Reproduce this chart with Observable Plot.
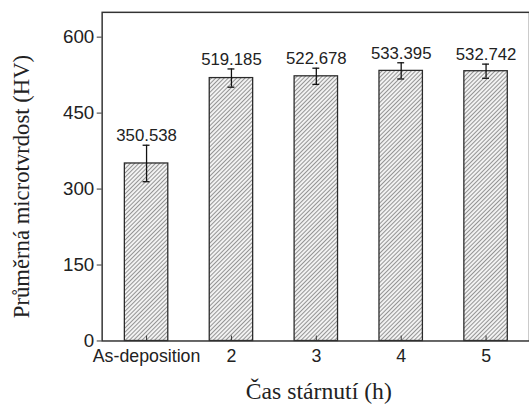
<!DOCTYPE html>
<html>
<head>
<meta charset="utf-8">
<script src="https://cdn.jsdelivr.net/npm/d3@7"></script>
<script src="https://cdn.jsdelivr.net/npm/@observablehq/plot@0.6"></script>
<style>
  html, body { margin: 0; padding: 0; background: #fff; overflow: hidden; }
  #chart { width: 529px; height: 411px; overflow: hidden; }
  #chart svg { display: block; }
</style>
</head>
<body>
<div id="chart"></div>
<script>
const categories = ["As-deposition", "2", "3", "4", "5"];
const values = [350.538, 519.185, 522.678, 533.395, 532.742];
const errors = [36, 18, 16, 16, 14];
const yTicks = [0, 150, 300, 450, 600];
const yTitle = "Průměrná microtvrdost (HV)";
const xTitle = "Čas stárnutí (h)";

const data = categories.map((c, i) => ({cat: c, v: values[i], e: errors[i]}));
const sans = "'Liberation Sans', Arial, sans-serif";
const serif = "'Liberation Serif', 'Times New Roman', serif";

const chart = Plot.plot({
  width: 536,
  height: 411,
  marginLeft: 103,
  marginRight: 0,
  marginTop: 12,
  marginBottom: 66,
  style: {background: "#fff", fontFamily: sans},
  x: {domain: categories, paddingInner: 0.49, paddingOuter: 0.245, label: null},
  y: {domain: [0, 649], label: null},
  marks: [
    Plot.barY(data, {x: "cat", y: "v", fill: "url(#hatch)", stroke: "#2a2a2a", strokeWidth: 1.3}),
    Plot.ruleX(data, {x: "cat", y1: d => d.v - d.e, y2: d => d.v + d.e, stroke: "#111", strokeWidth: 1.3}),
    Plot.tickY(data, {x: "cat", y: d => d.v + d.e, stroke: "#111", strokeWidth: 1.3, insetLeft: 18.5, insetRight: 18.5}),
    Plot.tickY(data, {x: "cat", y: d => d.v - d.e, stroke: "#111", strokeWidth: 1.3, insetLeft: 18.5, insetRight: 18.5}),
    Plot.text(data, {x: "cat", y: d => d.v + d.e, text: d => d.v.toFixed(3), lineAnchor: "bottom", dy: -4, fontSize: 17, fontFamily: sans, fill: "#222"}),
    Plot.ruleX(categories, {x: d => d, insetTop: 328, stroke: "#333", strokeWidth: 1}),
    Plot.axisY({ticks: yTicks, tickSize: 5, tickPadding: 3, fontSize: 19, fontFamily: sans, label: null, stroke: "#333", color: "#222"}),
    Plot.axisX({tickSize: 0, tickPadding: 9, fontSize: 18, fontFamily: sans, label: null, color: "#222"}),
    Plot.frame({stroke: "#333", strokeWidth: 1.5}),
    Plot.text([yTitle], {frameAnchor: "left", textAnchor: "middle", lineAnchor: "middle", dx: -81, dy: 10, rotate: -90, fontSize: 23, fontFamily: serif, fill: "#222"}),
    Plot.text([xTitle], {frameAnchor: "bottom", textAnchor: "middle", lineAnchor: "middle", dx: 3, dy: 51, fontSize: 24, fontFamily: serif, fill: "#222"})
  ]
});

const defs = d3.select(chart).insert("defs", ":first-child");
const pat = defs.append("pattern")
  .attr("id", "hatch")
  .attr("patternUnits", "userSpaceOnUse")
  .attr("width", 3)
  .attr("height", 3)
  .attr("patternTransform", "rotate(45)");
pat.append("rect").attr("width", 3).attr("height", 3).attr("fill", "#f2f2f2");
pat.append("line").attr("x1", 0).attr("y1", 0).attr("x2", 0).attr("y2", 3)
  .attr("stroke", "#555").attr("stroke-width", 1.2);

document.getElementById("chart").appendChild(chart);
</script>
</body>
</html>
